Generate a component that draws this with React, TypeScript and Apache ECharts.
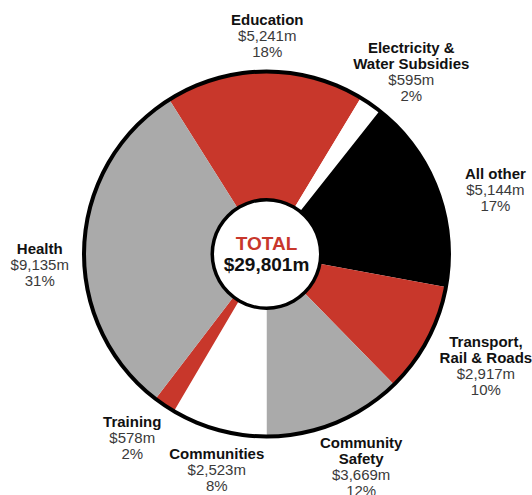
import React, { useEffect, useRef } from "react";
import * as echarts from "echarts";

// ---- data ----
const categories = [
  "Education",
  "Electricity &\nWater Subsidies",
  "All other",
  "Transport,\nRail & Roads",
  "Community\nSafety",
  "Communities",
  "Training",
  "Health",
];
const values = [5241, 595, 5144, 2917, 3669, 2523, 578, 9135];
const percents = [18, 2, 17, 10, 12, 8, 2, 31];
const totalTitle = "TOTAL";
const totalValue = 29801;

// ---- styles ----
const sliceColors = ["#C8372B", "#FFFFFF", "#000000", "#C8372B", "#AAAAAA", "#FFFFFF", "#C8372B", "#AAAAAA"];
const labelNudges: [number, number][] = [
  [3, 16],
  [11, 11],
  [9, 18],
  [12, 1],
  [6, -5],
  [12, -11],
  [-3, -11],
  [8, 21],
];

const FONT = "'Liberation Sans', Arial, Helvetica, sans-serif";
const CX = 266.5;
const CY = 254;

const fmtMoney = (v: number) => "$" + v.toLocaleString("en-US") + "m";

export default function App() {
  const ref = useRef<HTMLDivElement>(null);

  useEffect(() => {
    if (!ref.current) return;
    const chart = echarts.init(ref.current, undefined, { renderer: "svg" });

    const sliceData = values.map((v, i) => ({
      name: categories[i],
      value: v,
      itemStyle: { color: sliceColors[i] },
    }));

    const labelData = values.map((v, i) => ({
      name: categories[i],
      value: v,
    }));

    const startAngle = 122.2;

    chart.setOption({
      animation: false,
      backgroundColor: "#ffffff",
      series: [
        {
          type: "pie",
          center: [CX, CY],
          radius: [54, 182],
          startAngle,
          clockwise: true,
          silent: true,
          emphasis: { disabled: true },
          itemStyle: { borderWidth: 0 },
          label: { show: false },
          labelLine: { show: false },
          data: sliceData,
        },
        {
          type: "pie",
          center: [CX, CY],
          radius: [222, 242],
          startAngle,
          clockwise: true,
          silent: true,
          emphasis: { disabled: true },
          itemStyle: { color: "rgba(0,0,0,0)", borderWidth: 0 },
          labelLine: { show: false },
          label: {
            show: true,
            position: "inside",
            color: "#111",
            textBorderWidth: 0,
            fontFamily: FONT,
            formatter: (p: any) => {
              const i = p.dataIndex;
              const nameLines = categories[i]
                .split("\n")
                .map((s) => "{n|" + s + "}")
                .join("\n");
              return nameLines + "\n{v|" + fmtMoney(values[i]) + "}\n{v|" + percents[i] + "%}";
            },
            rich: {
              n: {
                fontFamily: FONT,
                fontWeight: "bold",
                fontSize: 15,
                lineHeight: 16,
                color: "#111",
              },
              v: {
                fontFamily: FONT,
                fontSize: 15,
                lineHeight: 16,
                color: "#3a3a3a",
              },
            },
          },
          labelLayout: (p: any) => ({
            dx: labelNudges[p.dataIndex][0],
            dy: labelNudges[p.dataIndex][1],
          }),
          data: labelData,
        },
        {
          type: "pie",
          center: [CX, CY],
          radius: [180.5, 184.5],
          silent: true,
          emphasis: { disabled: true },
          itemStyle: { color: "#000", borderWidth: 0 },
          label: { show: false },
          labelLine: { show: false },
          data: [{ name: "outline", value: 1 }],
        },
        {
          type: "pie",
          center: [CX, CY],
          radius: [52.5, 56],
          silent: true,
          emphasis: { disabled: true },
          itemStyle: { color: "#000", borderWidth: 0 },
          labelLine: { show: false },
          label: {
            show: true,
            position: "center",
            formatter: "{t|" + totalTitle + "}\n{v|" + fmtMoney(totalValue) + "}",
            rich: {
              t: {
                fontFamily: FONT,
                fontWeight: "bold",
                fontSize: 19,
                lineHeight: 21,
                color: "#C8372B",
              },
              v: {
                fontFamily: FONT,
                fontWeight: "bold",
                fontSize: 19,
                lineHeight: 21,
                color: "#111",
              },
            },
          },
          data: [{ name: "total", value: 1 }],
        },
      ],
    });

    return () => chart.dispose();
  }, []);

  return (
    <div
      ref={ref}
      style={{ position: "fixed", left: 0, top: 0, width: 532, height: 495 }}
    />
  );
}
